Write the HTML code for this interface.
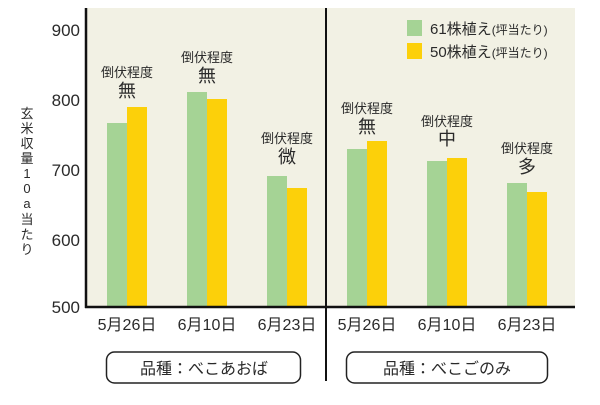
<!DOCTYPE html>
<html><head><meta charset="utf-8"><style>
body{margin:0;background:#fff;}
svg text{font-family:"Liberation Sans","Noto Sans CJK JP",sans-serif;fill:#2a2a2a;}
</style></head><body>
<svg width="600" height="400" xmlns="http://www.w3.org/2000/svg">
<rect x="86" y="8" width="489" height="299" fill="#f2f1e4"/>
<g fill="#a5d395">
<rect x="107" y="123" width="20" height="184"/>
<rect x="187" y="92" width="20" height="215"/>
<rect x="267" y="176" width="20" height="131"/>
<rect x="347" y="149" width="20" height="158"/>
<rect x="427" y="161" width="20" height="146"/>
<rect x="507" y="183" width="20" height="124"/>
</g>
<g fill="#fcd00a">
<rect x="127" y="107" width="20" height="200"/>
<rect x="207" y="99" width="20" height="208"/>
<rect x="287" y="188" width="20" height="119"/>
<rect x="367" y="141" width="20" height="166"/>
<rect x="447" y="158" width="20" height="149"/>
<rect x="527" y="192" width="20" height="115"/>
</g>
<line x1="86" y1="8" x2="86" y2="308" stroke="#111" stroke-width="2.5"/>
<line x1="85" y1="307" x2="575" y2="307" stroke="#111" stroke-width="2.5"/>
<line x1="326" y1="8" x2="326" y2="381" stroke="#111" stroke-width="2"/>
<g font-size="17" text-anchor="end">
<text x="80" y="36">900</text><text x="80" y="106">800</text><text x="80" y="176">700</text><text x="80" y="246">600</text><text x="80" y="313">500</text>
</g>
<g font-size="13" text-anchor="middle">
<text x="27" y="118">玄</text><text x="27" y="133">米</text><text x="27" y="148">収</text><text x="27" y="163">量</text><text x="27" y="178">1</text><text x="27" y="193">0</text><text x="27" y="208">a</text><text x="27" y="224">当</text><text x="27" y="239">た</text><text x="27" y="254">り</text>
</g>
<g font-size="16" text-anchor="middle">
<text x="127" y="330">5月26日</text><text x="207" y="330">6月10日</text><text x="287" y="330">6月23日</text>
<text x="367" y="330">5月26日</text><text x="447" y="330">6月10日</text><text x="527" y="330">6月23日</text>
</g>
<g text-anchor="middle">
<text x="127" y="77" font-size="13">倒伏程度</text><text x="127" y="97" font-size="18">無</text>
<text x="207" y="62" font-size="13">倒伏程度</text><text x="207" y="82" font-size="18">無</text>
<text x="287" y="143" font-size="13">倒伏程度</text><text x="287" y="163" font-size="18">微</text>
<text x="367" y="113" font-size="13">倒伏程度</text><text x="367" y="133" font-size="18">無</text>
<text x="447" y="126" font-size="13">倒伏程度</text><text x="447" y="145" font-size="18">中</text>
<text x="527" y="153" font-size="13">倒伏程度</text><text x="527" y="173" font-size="18">多</text>
</g>
<rect x="407" y="20" width="15" height="16" fill="#a5d395"/>
<rect x="407" y="43" width="15" height="16" fill="#fcd00a"/>
<text x="430" y="34" font-size="15">61株植え<tspan font-size="12">(坪当たり)</tspan></text>
<text x="430" y="57" font-size="15">50株植え<tspan font-size="12">(坪当たり)</tspan></text>
<rect x="106.5" y="352" width="194" height="31" rx="8" fill="#fff" stroke="#222" stroke-width="1.5"/>
<rect x="346.5" y="352" width="201" height="31" rx="8" fill="#fff" stroke="#222" stroke-width="1.5"/>
<text x="204" y="374" font-size="16" text-anchor="middle">品種：べこあおば</text>
<text x="447" y="374" font-size="16" text-anchor="middle">品種：べこごのみ</text>
</svg>
</body></html>
